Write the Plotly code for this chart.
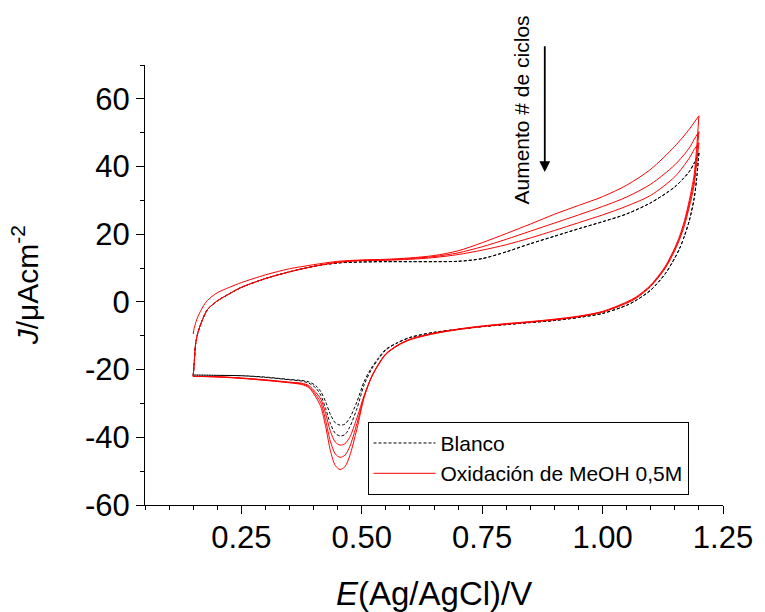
import plotly.graph_objects as go

# Potential grids (V)
E_anodic = [0.15, 0.152, 0.155, 0.16, 0.17, 0.18, 0.2, 0.225, 0.25, 0.3, 0.35, 0.4, 0.45, 0.5,
            0.55, 0.6, 0.65, 0.7, 0.75, 0.8, 0.85, 0.9, 0.95, 1.0, 1.05, 1.1, 1.15, 1.18, 1.19, 1.2]
E_cathodic = [1.2, 1.195, 1.19, 1.18, 1.17, 1.16, 1.15, 1.13, 1.1, 1.07, 1.05, 1.0, 0.95, 0.9, 0.85,
              0.8, 0.75, 0.7, 0.65, 0.6, 0.575, 0.55, 0.535, 0.52, 0.505, 0.49, 0.475, 0.465, 0.455,
              0.445, 0.435, 0.425, 0.415, 0.405, 0.39, 0.375, 0.35, 0.3, 0.25, 0.2, 0.15]

# Blanco (black dashed) current densities, uA/cm2
blanco_anodic = [-21.8, -18.5, -12.5, -9, -5, -2.2, 0.3, 2.4, 4.3, 6.9, 8.9, 10.5, 11.5, 11.8,
                 11.9, 11.9, 11.9, 12.0, 12.8, 14.8, 17.2, 19.4, 21.6, 23.7, 26.0, 29.3, 34.0, 38.5, 41.0, 44.0]
blanco_cathodic_1 = [44, 36, 30.5, 24, 19.5, 15.8, 13.0, 8.3, 3.5, 0.5, -1.0, -3.4, -4.6, -5.5, -6.1,
                     -6.7, -7.3, -8.1, -9.0, -10.5, -12.0, -14.2, -16.8, -20.0, -24.5, -31.5, -37.0, -39.2, -39.6,
                     -38.8, -36.0, -31.5, -27.6, -25.5, -24.0, -23.4, -23.0, -22.3, -21.8, -21.7, -21.6]
blanco_cathodic_2 = [44, 36, 30.5, 24, 19.5, 15.8, 13.0, 8.3, 3.5, 0.5, -1.0, -3.4, -4.6, -5.5, -6.1,
                     -6.7, -7.3, -8.1, -9.0, -10.5, -12.0, -14.0, -16.5, -19.5, -23.5, -29.5, -34.3, -36.1, -36.4,
                     -35.7, -33.3, -29.5, -26.5, -24.8, -23.6, -23.2, -22.9, -22.2, -21.8, -21.7, -21.6]

# MeOH oxidation (red), three cycles
meoh_anodic_1 = [-9.5, -7.8, -6.3, -4.3, -1.5, 0.5, 2.7, 4.3, 5.7, 8.0, 9.8, 11.0, 12.0, 12.4,
                 12.6, 13.0, 13.7, 15.1, 17.5, 20.2, 23.0, 25.9, 28.5, 31.1, 34.5, 39.2, 46.0, 51.0, 53.0, 55.0]
meoh_anodic_2 = [-22, -18.5, -12.5, -9, -5, -2.2, 0.3, 2.4, 4.3, 6.9, 8.9, 10.5, 11.7, 12.3,
                 12.4, 12.8, 13.4, 14.5, 16.3, 18.5, 20.9, 23.3, 25.7, 28.2, 31.0, 34.8, 40.5, 45.5, 48.0, 50.3]
meoh_anodic_3 = [-22, -18.5, -12.5, -9, -5, -2.2, 0.3, 2.4, 4.3, 6.9, 8.9, 10.5, 11.7, 12.2,
                 12.3, 12.6, 13.1, 14.0, 15.3, 16.9, 18.9, 21.1, 23.4, 25.7, 28.3, 31.5, 37.0, 42.5, 45.0, 47.0]
meoh_cathodic_1 = [55, 45, 37.5, 30, 24, 19.5, 16, 10.5, 5, 1.5, 0, -2.8, -4.2, -5.1, -5.8,
                   -6.4, -7.1, -8.0, -9.2, -11.0, -12.7, -15.3, -18.3, -22.2, -28.2, -37.5, -45.5, -48.7, -49.5,
                   -48.3, -44.0, -36.8, -31.0, -28.2, -25.3, -24.4, -23.9, -23.2, -22.6, -22.2, -22.0]
meoh_cathodic_2 = [50.3, 42.5, 36, 29, 23.3, 19, 15.6, 10.2, 4.8, 1.3, -0.2, -2.9, -4.3, -5.2, -5.9,
                   -6.5, -7.2, -8.1, -9.3, -11.1, -12.8, -15.4, -18.4, -22.3, -28.0, -36.0, -42.8, -45.3, -45.9,
                   -44.9, -41.3, -35.0, -29.8, -27.5, -25.0, -24.2, -23.8, -23.1, -22.5, -22.1, -22.0]
meoh_cathodic_3 = [47, 40.5, 34.5, 28, 22.6, 18.5, 15.2, 9.9, 4.6, 1.1, -0.4, -3.0, -4.4, -5.3, -6.0,
                   -6.6, -7.3, -8.2, -9.4, -11.2, -12.9, -15.5, -18.5, -22.3, -27.6, -34.3, -40.0, -41.9, -42.3,
                   -41.4, -38.3, -33.0, -28.7, -26.8, -24.7, -24.0, -23.7, -23.0, -22.5, -22.1, -22.0]

x_ticks = [0.25, 0.50, 0.75, 1.00, 1.25]
x_ticktext = ["0.25", "0.50", "0.75", "1.00", "1.25"]
y_ticks = [-60, -40, -20, 0, 20, 40, 60]
y_ticktext = ["-60", "-40", "-20", "0", "20", "40", "60"]

FONT = "Liberation Sans, Arial, sans-serif"

fig = go.Figure()

black_line = dict(color="black", width=1, dash="3px,2px", shape="spline", smoothing=0.8)
red_line = dict(color="#ff0000", width=1, shape="spline", smoothing=0.8)

black_branches = [(E_anodic, blanco_anodic), (E_cathodic, blanco_cathodic_1),
                  (E_anodic, blanco_anodic), (E_cathodic, blanco_cathodic_2)]
for i, (xs, ys) in enumerate(black_branches):
    fig.add_trace(go.Scatter(x=xs, y=ys, mode="lines", line=black_line,
                             name="Blanco", legendgroup="b", showlegend=(i == 0)))

red_branches = [(E_anodic, meoh_anodic_1), (E_cathodic, meoh_cathodic_1),
                (E_anodic, meoh_anodic_2), (E_cathodic, meoh_cathodic_2),
                (E_anodic, meoh_anodic_3), (E_cathodic, meoh_cathodic_3)]
for i, (xs, ys) in enumerate(red_branches):
    fig.add_trace(go.Scatter(x=xs, y=ys, mode="lines", line=red_line,
                             name="Oxidación de MeOH 0,5M", legendgroup="r", showlegend=(i == 0)))

axis_common = dict(showline=True, linecolor="black", linewidth=1, mirror=False,
                   showgrid=False, zeroline=False, ticks="outside", ticklen=8, tickwidth=1,
                   tickcolor="black", tickfont=dict(family=FONT, size=31, color="black"))

fig.update_xaxes(range=[0.05, 1.25], tickvals=x_ticks, ticktext=x_ticktext,
                 minor=dict(dtick=0.05, tick0=0.05, ticks="outside", ticklen=4, tickcolor="black"),
                 ticklabelstandoff=-3, **axis_common)
fig.update_yaxes(range=[-60, 70], tickvals=y_ticks, ticktext=y_ticktext,
                 minor=dict(dtick=10, tick0=0, ticks="outside", ticklen=4, tickcolor="black"),
                 **axis_common)

fig.add_annotation(text="<i>E</i>(Ag/AgCl)/V", xref="paper", yref="paper", x=0.5, y=-0.2,
                   xanchor="center", yanchor="middle", showarrow=False,
                   font=dict(family=FONT, size=33, color="black"))
fig.add_annotation(text="<i>J</i>/μAcm<sup>-2</sup>", xref="paper", yref="paper", x=-0.207, y=0.5,
                   xanchor="center", yanchor="middle", textangle=-90, showarrow=False,
                   font=dict(family=FONT, size=30, color="black"))
fig.add_annotation(text="Aumento # de ciclos", xref="x", yref="paper", x=0.832, y=0.898,
                   xanchor="center", yanchor="middle", textangle=-90, showarrow=False,
                   font=dict(family=FONT, size=21, color="black"))
fig.add_annotation(text="", x=0.88, y=38.4, xref="x", yref="y", ax=0.88, ay=76,
                   axref="x", ayref="y", showarrow=True, arrowhead=2, arrowsize=1.2,
                   arrowwidth=1.8, arrowcolor="black")

fig.update_layout(
    width=757, height=604,
    margin=dict(l=137, r=38, t=57, b=107),
    paper_bgcolor="white", plot_bgcolor="white",
    font=dict(family=FONT, color="black"),
    legend=dict(x=0.385, y=0.189, xanchor="left", yanchor="top",
                bordercolor="black", borderwidth=1, bgcolor="white",
                font=dict(family=FONT, size=21, color="black"),
                itemwidth=62, tracegroupgap=0),
)

fig.write_html("out.html")
